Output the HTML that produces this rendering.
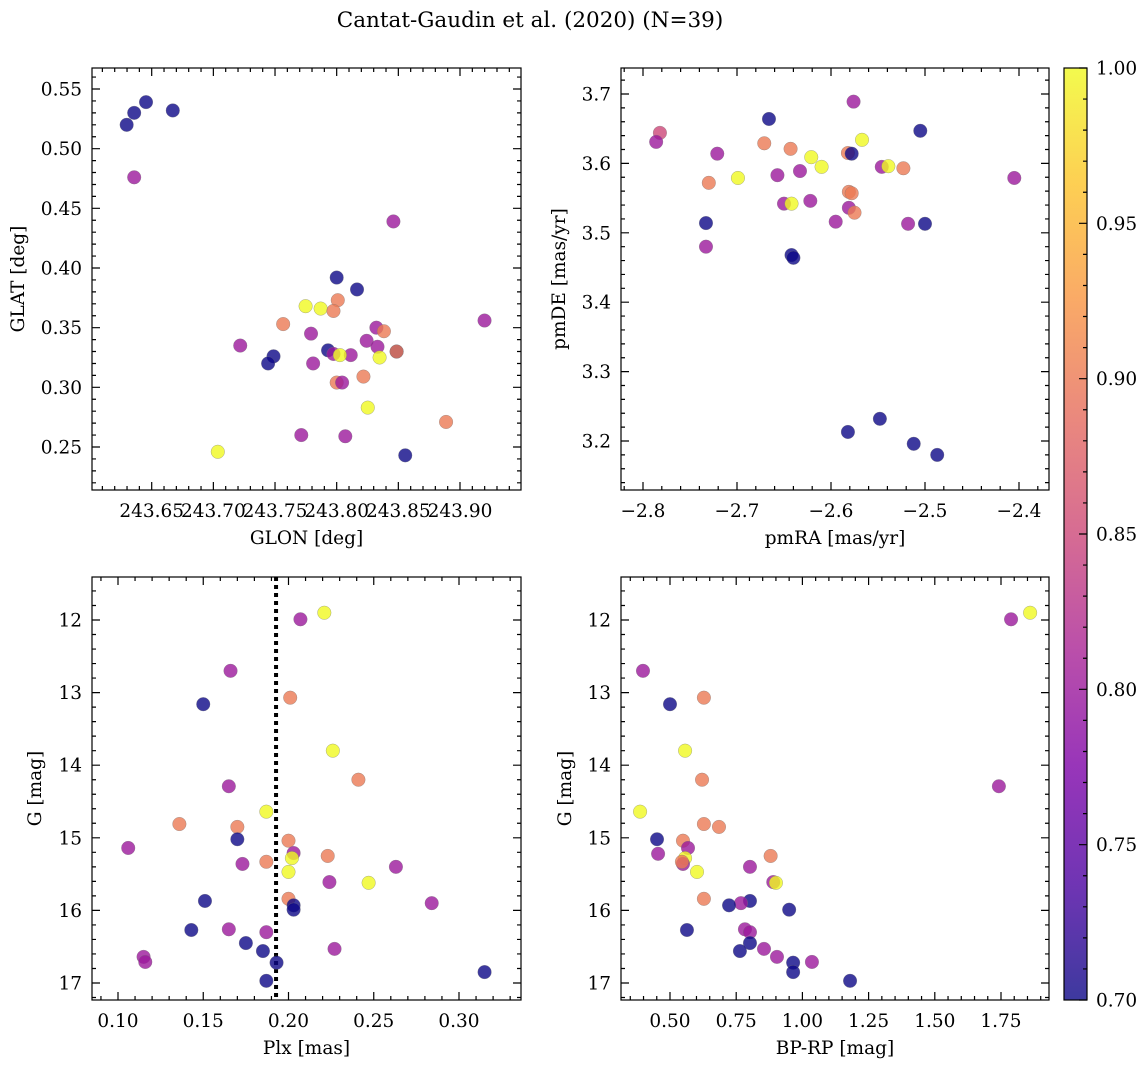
<!DOCTYPE html>
<html><head><meta charset="utf-8">
<style>
html,body{margin:0;padding:0;background:#fff;}
svg{display:block;font-family:"DejaVu Serif","Liberation Serif",serif;}
</style></head>
<body>
<svg id="fig" width="1148" height="1067" viewBox="0 0 1148 1067" xmlns="http://www.w3.org/2000/svg">
<text x="530" y="27" text-anchor="middle" font-size="21.5">Cantat-Gaudin et al. (2020) (N=39)</text>
<defs>
<linearGradient id="plasma" x1="0" y1="1" x2="0" y2="0">
<stop offset="0" stop-color="#0d0887"/><stop offset="0.125" stop-color="#4c02a1"/><stop offset="0.25" stop-color="#7e03a8"/><stop offset="0.375" stop-color="#a92395"/><stop offset="0.5" stop-color="#cc4778"/><stop offset="0.625" stop-color="#e56b5d"/><stop offset="0.75" stop-color="#f89441"/><stop offset="0.875" stop-color="#fdc328"/><stop offset="1" stop-color="#f0f921"/>
</linearGradient>
</defs>
</svg>
<script>
// Panel 1: GLON vs GLAT
const glon=[243.6297,243.6358,243.6454,243.6671,243.6358,243.8460,243.8000,243.8165,243.8009,243.7748,243.7870,243.7974,243.7566,243.9199,243.8322,243.8383,243.7792,243.7218,243.8243,243.8331,243.7930,243.7974,243.8114,243.8026,243.8348,243.7488,243.7444,243.8486,243.8486,243.7809,243.8217,243.8000,243.8044,243.8252,243.7713,243.8070,243.8887,243.7036,243.8556];
const glat=[0.520,0.530,0.539,0.532,0.476,0.439,0.392,0.382,0.373,0.368,0.366,0.364,0.353,0.356,0.350,0.347,0.345,0.335,0.339,0.334,0.331,0.328,0.327,0.327,0.325,0.326,0.320,0.330,0.330,0.320,0.309,0.304,0.304,0.283,0.260,0.259,0.271,0.246,0.243];
const prob1=[0.7,0.7,0.7,0.7,0.8,0.8,0.7,0.7,0.9,1.0,1.0,0.9,0.9,0.8,0.8,0.9,0.8,0.8,0.8,0.8,0.7,0.8,0.8,1.0,1.0,0.7,0.7,0.7,0.9,0.8,0.9,0.9,0.8,1.0,0.8,0.8,0.9,1.0,0.7];
// Panel 2: pmRA vs pmDE
const pmra=[-2.576,-2.666,-2.782,-2.786,-2.505,-2.567,-2.671,-2.643,-2.721,-2.582,-2.578,-2.621,-2.610,-2.546,-2.539,-2.523,-2.405,-2.730,-2.699,-2.657,-2.633,-2.581,-2.578,-2.581,-2.575,-2.650,-2.642,-2.622,-2.733,-2.595,-2.518,-2.500,-2.733,-2.642,-2.640,-2.548,-2.582,-2.512,-2.487];
const pmde=[3.689,3.664,3.644,3.631,3.647,3.634,3.629,3.621,3.614,3.615,3.614,3.609,3.595,3.595,3.596,3.593,3.579,3.572,3.579,3.583,3.589,3.559,3.557,3.536,3.529,3.542,3.542,3.546,3.514,3.516,3.513,3.513,3.480,3.468,3.464,3.232,3.213,3.196,3.180];
const prob2=[0.8,0.7,0.85,0.8,0.7,1.0,0.9,0.9,0.8,0.9,0.7,1.0,1.0,0.8,1.0,0.9,0.8,0.9,1.0,0.8,0.8,0.9,0.9,0.8,0.9,0.8,1.0,0.8,0.7,0.8,0.8,0.7,0.8,0.7,0.7,0.7,0.7,0.7,0.7];
// Panel 3: Plx vs G
const plx=[0.221,0.207,0.166,0.201,0.150,0.226,0.241,0.165,0.187,0.136,0.170,0.170,0.200,0.106,0.203,0.223,0.202,0.173,0.187,0.263,0.200,0.224,0.247,0.200,0.151,0.284,0.203,0.203,0.165,0.143,0.187,0.175,0.185,0.227,0.115,0.116,0.193,0.315,0.187];
const gmag3=[11.90,11.99,12.70,13.07,13.16,13.80,14.20,14.29,14.64,14.81,14.85,15.02,15.04,15.14,15.21,15.25,15.28,15.36,15.33,15.40,15.47,15.61,15.62,15.84,15.87,15.90,15.93,15.99,16.26,16.27,16.30,16.45,16.56,16.53,16.64,16.71,16.72,16.85,16.97];
const prob3=[1.0,0.8,0.8,0.9,0.7,1.0,0.9,0.8,1.0,0.9,0.9,0.7,0.9,0.8,0.8,0.9,1.0,0.8,0.9,0.8,1.0,0.8,1.0,0.9,0.7,0.8,0.7,0.7,0.8,0.7,0.8,0.7,0.7,0.8,0.8,0.8,0.7,0.7,0.7];
const plxLine=0.1927;
// Panel 4: BP-RP vs G
const bprp=[1.860,1.788,0.398,0.628,0.500,0.557,0.621,1.742,0.387,0.628,0.685,0.451,0.549,0.455,0.568,0.880,0.557,0.549,0.545,0.802,0.602,0.890,0.900,0.628,0.802,0.768,0.723,0.950,0.783,0.564,0.802,0.802,0.764,0.855,0.904,1.036,0.965,0.965,1.180];
const gmag4=[11.90,11.99,12.70,13.07,13.16,13.80,14.20,14.29,14.64,14.81,14.85,15.02,15.04,15.22,15.14,15.25,15.28,15.36,15.33,15.40,15.47,15.61,15.62,15.84,15.87,15.90,15.93,15.99,16.26,16.27,16.30,16.45,16.56,16.53,16.64,16.71,16.72,16.85,16.97];
const prob4=[1.0,0.8,0.8,0.9,0.7,1.0,0.9,0.8,1.0,0.9,0.9,0.7,0.9,0.8,0.8,0.9,1.0,0.8,0.9,0.8,1.0,0.8,1.0,0.9,0.7,0.8,0.7,0.7,0.8,0.7,0.8,0.7,0.7,0.8,0.8,0.8,0.7,0.7,0.7];
const cbarTicks=[0.70,0.75,0.80,0.85,0.90,0.95,1.00];

const NS="http://www.w3.org/2000/svg";
const svg=document.getElementById('fig');
const FS=18.5;
function mk(tag,attrs,parent){const e=document.createElementNS(NS,tag);for(const k in attrs)e.setAttribute(k,attrs[k]);(parent||svg).appendChild(e);return e;}
const stops=[[0,[13,8,135]],[0.125,[76,2,161]],[0.25,[126,3,168]],[0.375,[169,35,149]],[0.5,[204,71,120]],[0.625,[229,107,93]],[0.75,[248,148,65]],[0.875,[253,195,40]],[1,[240,249,33]]];
function plasma(v){let t=(v-0.7)/0.3;t=Math.max(0,Math.min(1,t));for(let i=0;i<stops.length-1;i++){const a=stops[i],b=stops[i+1];if(t<=b[0]){const f=(t-a[0])/(b[0]-a[0]);const c=a[1].map((x,j)=>Math.round(x+(b[1][j]-x)*f));return `rgb(${c[0]},${c[1]},${c[2]})`;}}return 'rgb(240,249,33)';}
function lin(d0,d1,p0,p1){return v=>p0+(v-d0)*(p1-p0)/(d1-d0);}

function panel(o){
  const g=mk('g',{});
  
  
  const sx=lin(o.xd[0],o.xd[1],o.xp[0],o.xp[1]);
  const sy=lin(o.yd[0],o.yd[1],o.yp[0],o.yp[1]);
  const L=o.box[0],R=o.box[1],T=o.box[2],B=o.box[3];
  const tl=[];
  function ticks(vals,isX,len){
    vals.forEach(v=>{
      if(isX){const x=sx(v);if(x<L||x>R)return;tl.push(`M${x},${B}v${-len}M${x},${T}v${len}`);}
      else{const y=sy(v);if(y<T||y>B)return;tl.push(`M${L},${y}h${len}M${R},${y}h${-len}`);}
    });
  }
  const rng=(a,b,s)=>{const r=[];for(let v=a;v<=b+s/1000;v+=s)r.push(+v.toFixed(6));return r;};
  ticks(rng(o.xminor[0],o.xminor[1],o.xminor[2]),true,4);
  ticks(rng(o.yminor[0],o.yminor[1],o.yminor[2]),false,4);
  ticks(o.xt,true,8);
  ticks(o.yt,false,8);
  mk('path',{d:tl.join(''),stroke:'#000','stroke-width':1.2,fill:'none'},g);
  if(o.vline!==undefined){const x=sx(o.vline);const vl=mk('line',{x1:x,x2:x,y1:T,y2:B,stroke:'#000','stroke-width':4,'stroke-dasharray':'4,4'},g);}
  for(let i=0;i<o.xs.length;i++){
    const c=mk('circle',{cx:sx(o.xs[i]),cy:sy(o.ys[i]),r:6.8,fill:plasma(o.c[i]),'fill-opacity':0.8,stroke:'#777','stroke-width':0.5,'stroke-opacity':0.6},g);
    
    
  }
  const fr=mk('rect',{x:L,y:T,width:R-L,height:B-T,fill:'none',stroke:'#000','stroke-width':1.2},g);
  
  o.xt.forEach((v,i)=>{const t=mk('text',{x:sx(v),y:B+27,'text-anchor':'middle','font-size':FS},g);t.textContent=o.xl[i];});
  o.yt.forEach((v,i)=>{const t=mk('text',{x:L-10,y:sy(v)+6.5,'text-anchor':'end','font-size':FS},g);t.textContent=o.yl[i];});
  const xt=mk('text',{x:(L+R)/2,y:B+54,'text-anchor':'middle','font-size':FS},g);xt.textContent=o.xtitle;
  const yt=mk('text',{x:o.ytx,y:(T+B)/2,'text-anchor':'middle','font-size':FS,transform:`rotate(-90 ${o.ytx} ${(T+B)/2})`},g);yt.textContent=o.ytitle;
}
panel({name:'glon-glat-panel',box:[92,521,68,490],xd:[243.65,243.90],xp:[151.7,460],yd:[0.55,0.25],yp:[89,447],
  xs:glon,ys:glat,c:prob1,xt:[243.65,243.70,243.75,243.80,243.85,243.90],xl:['243.65','243.70','243.75','243.80','243.85','243.90'],
  yt:[0.25,0.30,0.35,0.40,0.45,0.50,0.55],yl:['0.25','0.30','0.35','0.40','0.45','0.50','0.55'],
  xminor:[243.60,243.96,0.01],yminor:[0.20,0.57,0.01],xtitle:'GLON [deg]',ytitle:'GLAT [deg]',ytx:24});
panel({name:'pm-panel',box:[621,1049,68,490],xd:[-2.8,-2.4],xp:[643,1019],yd:[3.7,3.2],yp:[94,441],
  xs:pmra,ys:pmde,c:prob2,xt:[-2.8,-2.7,-2.6,-2.5,-2.4],xl:['\u22122.8','\u22122.7','\u22122.6','\u22122.5','\u22122.4'],
  yt:[3.2,3.3,3.4,3.5,3.6,3.7],yl:['3.2','3.3','3.4','3.5','3.6','3.7'],
  xminor:[-2.84,-2.32,0.02],yminor:[3.10,3.76,0.02],xtitle:'pmRA [mas/yr]',ytitle:'pmDE [mas/yr]',ytx:565});
panel({name:'plx-g-panel',box:[92,521,577,1000],xd:[0.10,0.30],xp:[118,459],yd:[12,17],yp:[620,983],
  xs:plx,ys:gmag3,c:prob3,xt:[0.10,0.15,0.20,0.25,0.30],xl:['0.10','0.15','0.20','0.25','0.30'],
  yt:[12,13,14,15,16,17],yl:['12','13','14','15','16','17'],vline:plxLine,
  xminor:[0.08,0.34,0.01],yminor:[11.4,17.4,0.2],xtitle:'Plx [mas]',ytitle:'G [mag]',ytx:41});
panel({name:'color-magnitude-panel',box:[621,1049,577,1000],xd:[0.5,1.75],xp:[670,1001],yd:[12,17],yp:[620,983],
  xs:bprp,ys:gmag4,c:prob4,xt:[0.5,0.75,1.0,1.25,1.5,1.75],xl:['0.50','0.75','1.00','1.25','1.50','1.75'],
  yt:[12,13,14,15,16,17],yl:['12','13','14','15','16','17'],
  xminor:[0.30,1.95,0.05],yminor:[11.4,17.4,0.2],xtitle:'BP-RP [mag]',ytitle:'G [mag]',ytx:571});
// colorbar
const cb=mk('g',{});


const cbT=68,cbB=1000,cbL=1064,cbR=1087;
mk('rect',{x:cbL,y:cbT,width:cbR-cbL,height:cbB-cbT,fill:'url(#plasma)','fill-opacity':0.8},cb);
mk('rect',{x:cbL,y:cbT,width:cbR-cbL,height:cbB-cbT,fill:'none',stroke:'#000','stroke-width':1.2},cb);
const cy=lin(0.7,1.0,cbB,cbT);
let cd='';
for(let v=0.70;v<=1.0001;v+=0.01){const y=cy(v);cd+=`M${cbR},${y}h-4`;}
cbarTicks.forEach(v=>{const y=cy(v);cd+=`M${cbR},${y}h-8`;});
mk('path',{d:cd,stroke:'#000','stroke-width':1.2},cb);
cbarTicks.forEach(v=>{const t=mk('text',{x:cbR+9,y:cy(v)+6.5,'font-size':FS},cb);t.textContent=v.toFixed(2);});
</script>
</body></html>
